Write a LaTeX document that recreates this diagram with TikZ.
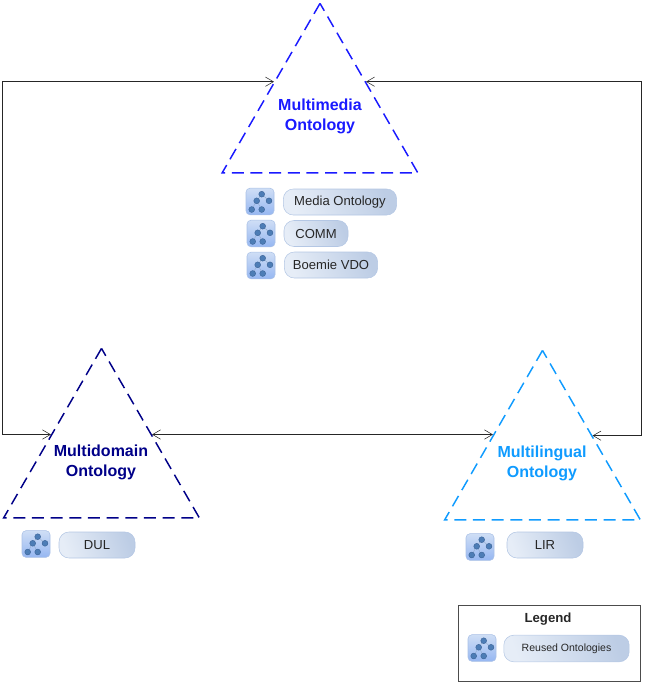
\documentclass[tikz,border=0pt]{standalone}
\usepackage{fontspec}
\setmainfont{Liberation Sans}
\usepackage{xcolor}
\usetikzlibrary{arrows.meta, shapes.geometric}
\definecolor{mediablue}{HTML}{1A1AFF}
\definecolor{domainblue}{HTML}{000088}
\definecolor{lingualblue}{HTML}{0F9BFF}
\definecolor{pilledge}{HTML}{B4C7E4}
\definecolor{pilllight}{HTML}{E6EDF7}
\definecolor{pilldark}{HTML}{BDCDE5}
\definecolor{iconedge}{HTML}{A9C0E6}
\definecolor{icontop}{HTML}{CFDEF5}
\definecolor{iconbot}{HTML}{96B7F2}
\definecolor{dotblue}{HTML}{4D7DB6}
\definecolor{dotedge}{HTML}{3A6296}

\begin{document}
\begin{tikzpicture}[
  x=0.75pt, y=-0.75pt,
  tri/.style={regular polygon, regular polygon sides=3, minimum size=169.5pt, inner sep=0pt,
              line width=1.1pt, dash pattern=on 9pt off 5pt},
  title/.style={align=center, inner sep=0pt, font=\fontsize{12}{15}\selectfont\bfseries},
  pill/.style={rectangle, rounded corners=7.5pt, draw=pilledge, left color=pilllight, right color=pilldark,
               shading angle=110, minimum height=19.5pt, inner sep=0pt, text=black!85,
               font=\fontsize{9.8}{12}\selectfont},
  onto/.style={rectangle, rounded corners=3pt, draw=iconedge, top color=icontop, bottom color=iconbot,
               minimum width=21pt, minimum height=20pt, inner sep=0pt,
               path picture={
                 \begin{scope}[shift={(path picture bounding box.center)}]
                   \draw[dotedge!60, line width=0.2pt] (1.7,-7.3) -- (-3.3,-0.7) -- (-8.3,8)
                                                       (1.7,-7.3) -- (9,-0.7) (-3.3,-0.7) -- (1.7,8);
                   \foreach \dotx/\doty in {1.7/-7.3, -3.3/-0.7, 9/-0.7, -8.3/8, 1.7/8}
                     \filldraw[fill=dotblue, draw=dotedge, line width=0.3pt] (\dotx,\doty) circle (2.2pt);
                 \end{scope}}},
  arr/.style={{Straight Barb[length=6pt, width=7pt, line width=0.4pt]}-{Straight Barb[length=6pt, width=7pt, line width=0.4pt]},
              draw=black!85, line width=0.75pt}
]
\useasboundingbox (0,0) rectangle (644,683);
%% triangles
\node[tri, draw=mediablue]   (t_media)   at (320, 116.4) {};
\node[tri, draw=domainblue]  (t_domain)  at (101.5, 461.4) {};
\node[tri, draw=lingualblue] (t_lingual) at (542.5, 463.4) {};
\node[title, text=mediablue]   (n_media)   at (320, 116.5) {Multimedia\\Ontology};
\node[title, text=domainblue]  (n_domain)  at (101, 462) {Multidomain\\Ontology};
\node[title, text=lingualblue] (n_lingual) at (542, 463.5) {Multilingual\\Ontology};
%% reused ontologies
\node[onto] (i_media)  at (260, 201.5) {};
\node[pill, minimum width=85pt] (p_media) at (340, 202) {Media Ontology};
\node[onto] (i_comm)   at (261, 233.5) {};
\node[pill, minimum width=48pt] (p_comm)  at (316, 233.5) {COMM};
\node[onto] (i_vdo)    at (261, 265.5) {};
\node[pill, minimum width=70pt] (p_vdo)   at (331, 265) {Boemie VDO};
\node[onto] (i_dul)    at (36, 544) {};
\node[pill, minimum width=57pt] (p_dul)   at (97, 545) {DUL};
\node[onto] (i_lir)    at (480, 547) {};
\node[pill, minimum width=57pt] (p_lir)   at (545, 545) {LIR};
%% legend
\node[draw=black!70, minimum width=136.5pt, minimum height=57pt, inner sep=0pt] (legend) at (549, 643) {};
\node[font=\fontsize{9.9}{12}\selectfont\bfseries, text=black!85, inner sep=0pt] (l_title) at (548, 619.5) {Legend};
\node[onto] (i_legend) at (482, 648) {};
\node[pill, minimum width=94pt, minimum height=20pt, font=\fontsize{7.9}{10}\selectfont] (p_legend) at (566.5, 648.5) {Reused Ontologies};
%% arrows
\draw[arr] (t_domain.152) -- ++(-48.5,0) |- (t_media.143);
\draw[arr] (t_media.37) -- ++(275,0) |- (t_lingual.29);
\draw[arr] (t_domain.28) -- (t_domain.28 -| t_lingual.150);
\end{tikzpicture}
\end{document}
